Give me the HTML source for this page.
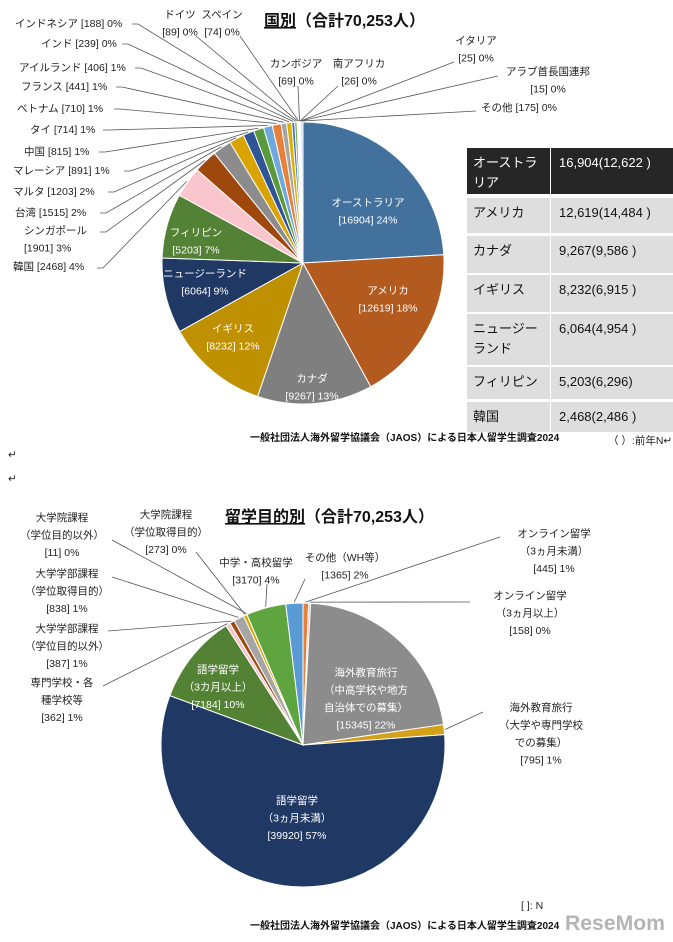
<!DOCTYPE html>
<html><head><meta charset="utf-8">
<style>
html,body{margin:0;padding:0;background:#fff;}
svg{display:block;font-family:"Liberation Sans","Noto Sans CJK JP",sans-serif;}
.lb{font-size:10.5px;fill:#222;}
.in{font-size:10.5px;fill:#fff;}
.tt{font-size:16px;font-weight:bold;fill:#111;}
.src{font-size:10px;font-weight:bold;fill:#111;}
.tb{font-size:13px;}
</style></head>
<body>
<svg id="chart" width="673" height="942" viewBox="0 0 673 942">
  <text class="tt" x="264" y="26"><tspan text-decoration="underline">国別</tspan>（合計70,253人）</text>
  <text class="tt" x="225" y="522"><tspan text-decoration="underline">留学目的別</tspan>（合計70,253人）</text>
  <g id="pie1"></g>
  <g id="pie2"></g>
  <g id="table"></g>
  <text class="src" x="250" y="441">一般社団法人海外留学協議会（JAOS）による日本人留学生調査2024</text>
  <text class="lb" x="608" y="444">（ ）:前年N↵</text>
  <text class="lb" x="8" y="458" fill="#888">↵</text>
  <text class="lb" x="8" y="482" fill="#888">↵</text>
  <text class="lb" x="521" y="909">[ ]: N</text>
  <text class="src" x="250" y="929">一般社団法人海外留学協議会（JAOS）による日本人留学生調査2024</text>
  <text x="565" y="930" font-size="21" font-weight="bold" fill="#a8a8a8" opacity="0.85" textLength="100" lengthAdjust="spacingAndGlyphs">ReseMom</text>
</svg>
<script>
const NS="http://www.w3.org/2000/svg";
// ---- Chart 1 data (by country) ----
const countryNames=["オーストラリア","アメリカ","カナダ","イギリス","ニュージーランド","フィリピン","韓国","シンガポール","台湾","マルタ","マレーシア","中国","タイ","ベトナム","フランス","アイルランド","インド","インドネシア","ドイツ","スペイン","カンボジア","南アフリカ","イタリア","アラブ首長国連邦","その他"];
const countryValues=[16904,12619,9267,8232,6064,5203,2468,1901,1515,1203,891,815,714,710,441,406,239,188,89,74,69,26,25,15,175];
const countryPct=["24%","18%","13%","12%","9%","7%","4%","3%","2%","2%","1%","1%","1%","1%","1%","1%","0%","0%","0%","0%","0%","0%","0%","0%","0%"];
// ---- Chart 2 data (by purpose) ----
const purposeNames=["オンライン留学(3ヵ月未満)","オンライン留学(3ヵ月以上)","海外教育旅行(中高学校や地方自治体での募集)","海外教育旅行(大学や専門学校での募集)","語学留学(3ヵ月未満)","語学留学(3カ月以上)","専門学校・各種学校等","大学学部課程(学位目的以外)","大学学部課程(学位取得目的)","大学院課程(学位取得目的)","大学院課程(学位目的以外)","中学・高校留学","その他(WH等)"];
const purposeValues=[445,158,15345,795,39920,7184,362,387,838,273,11,3170,1365];
const purposePct=["1%","0%","22%","1%","57%","10%","1%","1%","1%","0%","0%","4%","2%"];
// ---- Table data ----
const tableCountries=[["オーストラ","リア"],["アメリカ"],["カナダ"],["イギリス"],["ニュージー","ランド"],["フィリピン"],["韓国"]];
const tableCurrent=["16,904","12,619","9,267","8,232","6,064","5,203","2,468"];
const tablePrev=["12,622 ","14,484 ","9,586 ","6,915 ","4,954 ","6,296","2,486 "];

const c1=["#41719c","#b35a1f","#7f7f7f","#bf9000","#203864","#538135","#f8c6cc","#9e480e","#8c8c8c","#d9a400","#2f5597","#5b9a3c","#6fa8dc","#e8803a","#a5a5a5","#e0b000","#4472c4","#70ad47","#9dc3e6","#f4b183","#c9c9c9","#ffd966","#8faadc","#a9d18e","#bdd7ee"];
const c2=["#e8803a","#f4b6b6","#8c8c8c","#d4a017","#203864","#548235","#f8c6cc","#9e480e","#a5a5a5","#d9a400","#2f5597","#5fa53f","#5b9bd5"];

function el(tag,attrs,parent){const e=document.createElementNS(NS,tag);for(const k in attrs)e.setAttribute(k,attrs[k]);parent.appendChild(e);return e;}
function pt(cx,cy,r,a){return [cx+r*Math.sin(a),cy-r*Math.cos(a)];}
function drawPie(g,vals,cols,cx,cy,r,prefix){
  const tot=vals.reduce((a,b)=>a+b,0);let cum=0;const mids=[];
  vals.forEach((v,i)=>{
    const a0=cum/tot*2*Math.PI;cum+=v;const a1=cum/tot*2*Math.PI;
    const p0=pt(cx,cy,r,a0),p1=pt(cx,cy,r,a1);
    const large=(a1-a0)>Math.PI?1:0;
    const p=el("path",{d:`M${cx},${cy}L${p0[0]},${p0[1]}A${r},${r} 0 ${large} 1 ${p1[0]},${p1[1]}Z`,fill:cols[i%cols.length],stroke:"#fff","stroke-width":"1"},g);
    
    
    mids.push((a0+a1)/2);
  });
  return mids;
}
function txt(g,lines,x,y,cls,anchor,name){
  lines.forEach((s,j)=>{
    const t=el("text",{x:x,y:y+j*17.5,"class":cls,"text-anchor":anchor},g);t.textContent=s;
    
    
  });
}
function leader(g,pts,name){
  const l=el("polyline",{points:pts.map(p=>p.join(",")).join(" "),fill:"none",stroke:"#555","stroke-width":"0.8"},g);
  
  
}

// ---- Pie 1 ----
const g1=document.getElementById("pie1");
const cx1=303,cy1=263,r1=141;
const m1=drawPie(g1,countryValues,c1,cx1,cy1,r1,"country");
const in1=[[368,206],[388,294],[312,382],[233,332],[205,277],[196,236]];
in1.forEach((p,i)=>txt(g1,[countryNames[i],"["+countryValues[i]+"] "+countryPct[i]],p[0],p[1],"in","middle","country-label-"+i));
const out1={6:[13,270,"start",97,268],7:[24,234,"start",100,232],8:[15,216,"start",100,213],9:[13,195,"start",108,192],10:[13,174,"start",124,171],11:[24,155,"start",99,152],12:[30,133,"start",103,130],13:[17,112,"start",114,109],14:[21,90,"start",116,87],15:[19,71,"start",135,68],16:[41,47,"start",122,44],17:[15,27,"start",132,24],18:[180,18,"middle",196,36],19:[222,18,"middle",240,36],20:[296,67,"middle",298,86],21:[359,67,"middle",338,86],22:[476,44,"middle",454,62],23:[548,75,"middle",498,76],24:[519,111,"middle",476,111]};
for(const k in out1){
  const i=+k,o=out1[k];
  const two=(i===7||i>=18&&i!==24);
  const lines=two?[countryNames[i],"["+countryValues[i]+"] "+countryPct[i]]:[countryNames[i]+" ["+countryValues[i]+"] "+countryPct[i]];
  txt(g1,lines,o[0],o[1],"lb",o[2],"country-label-"+i);
  const tp=pt(cx1,cy1,r1+1,m1[i]);
  leader(g1,[[o[3],o[4]],[o[3]+ (o[2]==="start"?6:0),o[4]],tp],"country-leader-"+i);
}

// ---- Table ----
const gt=document.getElementById("table");
const rowY=[148,198,236,275,314,367,402],rowH=[46,35,37,37,51,32,30];
tableCountries.forEach((nm,i)=>{
  const hdr=i===0;const fill=hdr?"#262626":"#dedede";const tc=hdr?"#fff":"#111";
  const r1e=el("rect",{x:467,y:rowY[i],width:83,height:rowH[i],fill:fill},gt);
  
  
  const r2e=el("rect",{x:551,y:rowY[i],width:122,height:rowH[i],fill:fill},gt);
  
  
  nm.forEach((s,j)=>{const t=el("text",{x:473,y:rowY[i]+19+j*20,"class":"tb",fill:tc},gt);t.textContent=s;
    
    });
  const t=el("text",{x:559,y:rowY[i]+19,"class":"tb",fill:tc},gt);t.textContent=tableCurrent[i]+"("+tablePrev[i]+")";
  
  
});

// ---- Pie 2 ----
const g2=document.getElementById("pie2");
const cx2=303,cy2=745,r2=142;
const m2=drawPie(g2,purposeValues,c2,cx2,cy2,r2,"purpose");
txt(g2,["海外教育旅行","（中高学校や地方","自治体での募集）","["+purposeValues[2]+"] "+purposePct[2]],366,676,"in","middle","purpose-label-2");
txt(g2,["語学留学","（3カ月以上）","["+purposeValues[5]+"] "+purposePct[5]],218,673,"in","middle","purpose-label-5");
txt(g2,["語学留学","（3ヵ月未満）","["+purposeValues[4]+"] "+purposePct[4]],297,804,"in","middle","purpose-label-4");
const out2={
 0:[["オンライン留学","（3ヵ月未満）"],554,537,500,537],
 1:[["オンライン留学","（3ヵ月以上）"],530,599,470,602],
 3:[["海外教育旅行","（大学や専門学校","での募集）"],541,711,483,712],
 6:[["専門学校・各","種学校等"],62,686,103,686],
 7:[["大学学部課程","（学位目的以外）"],67,632,108,631],
 8:[["大学学部課程","（学位取得目的）"],67,577,112,577],
 9:[["大学院課程","（学位取得目的）"],166,518,196,552],
 10:[["大学院課程","（学位目的以外）"],62,521,112,540],
 11:[["中学・高校留学"],256,566,267,584],
 12:[["その他（WH等）"],345,561,305,579]
};
for(const k in out2){
  const i=+k,o=out2[k];
  txt(g2,o[0].concat(["["+purposeValues[i]+"] "+purposePct[i]]),o[1],o[2],"lb","middle","purpose-label-"+i);
  const tp=pt(cx2,cy2,r2+1,m2[i]);
  leader(g2,[[o[3],o[4]],tp],"purpose-leader-"+i);
}
</script>
</body></html>
